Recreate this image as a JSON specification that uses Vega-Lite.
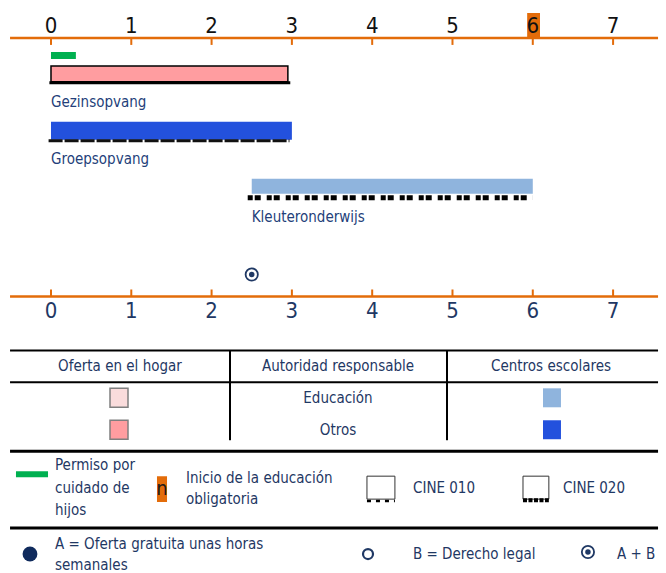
{
  "$schema": "https://vega.github.io/schema/vega-lite/v6.json",
  "width": 666,
  "height": 573,
  "autosize": {"type": "fit", "contains": "padding"},
  "padding": 0,
  "background": "white",
  "config": {"view": {"stroke": null}, "text": {"font": "DejaVu Sans Condensed, sans-serif"}},
  "datasets": {
    "axisLines": [{"x": -0.51, "x2": 7.56, "y": 38}, {"x": -0.51, "x2": 7.56, "y": 297}],
    "ticks": [
      {"x": 0, "y": 38, "y2": 45}, {"x": 1, "y": 38, "y2": 45}, {"x": 2, "y": 38, "y2": 45}, {"x": 3, "y": 38, "y2": 45},
      {"x": 4, "y": 38, "y2": 45}, {"x": 5, "y": 38, "y2": 45}, {"x": 6, "y": 38, "y2": 45}, {"x": 7, "y": 38, "y2": 45},
      {"x": 0, "y": 290, "y2": 297}, {"x": 1, "y": 290, "y2": 297}, {"x": 2, "y": 290, "y2": 297}, {"x": 3, "y": 290, "y2": 297},
      {"x": 4, "y": 290, "y2": 297}, {"x": 5, "y": 290, "y2": 297}, {"x": 6, "y": 290, "y2": 297}, {"x": 7, "y": 290, "y2": 297}
    ],
    "highlight": [{"x": 5.93, "x2": 6.09, "y": 13, "y2": 38}, {"x": 1.32, "x2": 1.445, "y": 477, "y2": 503}],
    "topLabels": [
      {"x": 0, "y": 26, "label": "0"}, {"x": 1, "y": 26, "label": "1"}, {"x": 2, "y": 26, "label": "2"}, {"x": 3, "y": 26, "label": "3"},
      {"x": 4, "y": 26, "label": "4"}, {"x": 5, "y": 26, "label": "5"}, {"x": 6, "y": 26, "label": "6"}, {"x": 7, "y": 26, "label": "7"}
    ],
    "bottomLabels": [
      {"x": 0, "y": 312, "label": "0"}, {"x": 1, "y": 312, "label": "1"}, {"x": 2, "y": 312, "label": "2"}, {"x": 3, "y": 312, "label": "3"},
      {"x": 4, "y": 312, "label": "4"}, {"x": 5, "y": 312, "label": "5"}, {"x": 6, "y": 312, "label": "6"}, {"x": 7, "y": 312, "label": "7"}
    ],
    "leave": [{"x": 0, "x2": 0.31, "y": 52, "y2": 59}, {"x": -0.436, "x2": -0.037, "y": 472, "y2": 478}],
    "homeOther": [{"x": 0, "x2": 2.95, "y": 66, "y2": 82}],
    "swatchHomeEdu": [{"x": 0.735, "x2": 0.959, "y": 389, "y2": 408}],
    "swatchHomeOther": [{"x": 0.735, "x2": 0.959, "y": 421, "y2": 440}],
    "centreOther": [{"x": 0, "x2": 3.0, "y": 122, "y2": 140}, {"x": 6.127, "x2": 6.351, "y": 421, "y2": 440}],
    "centreEdu": [{"x": 2.5, "x2": 6.0, "y": 179, "y2": 194}, {"x": 6.127, "x2": 6.351, "y": 389, "y2": 408}],
    "solidUnder": [{"x": -0.02, "x2": 2.98, "y": 83}],
    "isced010": [{"x": -0.03, "x2": 2.97, "y": 141}],
    "isced020": [{"x": 2.45, "x2": 6.0, "y": 198}],
    "iconBoxes": [{"x": 3.935, "x2": 4.283, "y": 477, "y2": 500}, {"x": 5.878, "x2": 6.2, "y": 477, "y2": 500}],
    "icon010": [{"x": 3.935, "x2": 4.283, "y": 502}],
    "icon020": [{"x": 5.878, "x2": 6.2, "y": 501}],
    "barLabels": [
      {"x": 0, "y": 102, "label": "Gezinsopvang"},
      {"x": 0, "y": 159, "label": "Groepsopvang"},
      {"x": 2.5, "y": 217, "label": "Kleuteronderwijs"}
    ],
    "ringMarkers": [{"x": 2.5, "y": 275}, {"x": 6.687, "y": 553}],
    "openCircle": [{"x": 3.948, "y": 555}],
    "fullCircle": [{"x": -0.2615, "y": 555}],
    "tableLines": [{"x": -0.51, "x2": 7.56, "y": 351}, {"x": -0.51, "x2": 7.56, "y": 383}],
    "thickLines": [{"x": -0.51, "x2": 7.56, "y": 452}, {"x": -0.51, "x2": 7.56, "y": 529}],
    "vLines": [{"x": 2.229, "y": 351, "y2": 441}, {"x": 4.932, "y": 351, "y2": 441}],
    "centreText": [
      {"x": 0.859, "y": 367, "label": "Oferta en el hogar"},
      {"x": 3.574, "y": 367, "label": "Autoridad responsable"},
      {"x": 6.227, "y": 367, "label": "Centros escolares"},
      {"x": 3.574, "y": 399, "label": "Educación"},
      {"x": 3.574, "y": 431, "label": "Otros"}
    ],
    "legendText": [
      {"x": 0.05, "y": 466, "label": "Permiso por"},
      {"x": 0.05, "y": 489, "label": "cuidado de"},
      {"x": 0.05, "y": 511, "label": "hijos"},
      {"x": 1.681, "y": 479, "label": "Inicio de la educación"},
      {"x": 1.681, "y": 500, "label": "obligatoria"},
      {"x": 4.508, "y": 489, "label": "CINE 010"},
      {"x": 6.376, "y": 489, "label": "CINE 020"},
      {"x": 0.05, "y": 545, "label": "A = Oferta gratuita unas horas"},
      {"x": 0.05, "y": 566, "label": "semanales"},
      {"x": 4.508, "y": 555, "label": "B = Derecho legal"},
      {"x": 7.049, "y": 555, "label": "A + B"}
    ],
    "nText": [{"x": 1.382, "y": 490, "label": "n"}]
  },
  "encoding": {
    "x": {"field": "x", "type": "quantitative", "scale": {"domain": [-0.635, 7.659], "nice": false, "zero": false}, "axis": null},
    "y": {"field": "y", "type": "quantitative", "scale": {"domain": [0, 573], "reverse": true, "nice": false, "zero": false}, "axis": null}
  },
  "layer": [
    {"data": {"name": "highlight"}, "mark": {"type": "rect", "color": "#e36c0a"}, "encoding": {"x2": {"field": "x2"}, "y2": {"field": "y2"}}},
    {"data": {"name": "axisLines"}, "mark": {"type": "rule", "color": "#e36c0a", "strokeWidth": 2.5}, "encoding": {"x2": {"field": "x2"}}},
    {"data": {"name": "ticks"}, "mark": {"type": "rule", "color": "#e36c0a", "strokeWidth": 2}, "encoding": {"y2": {"field": "y2"}}},
    {"data": {"name": "topLabels"}, "mark": {"type": "text", "color": "#111111", "fontSize": 22, "baseline": "middle", "align": "center"}, "encoding": {"text": {"field": "label"}}},
    {"data": {"name": "bottomLabels"}, "mark": {"type": "text", "color": "#1f3864", "fontSize": 22, "baseline": "middle", "align": "center"}, "encoding": {"text": {"field": "label"}}},
    {"data": {"name": "leave"}, "mark": {"type": "rect", "color": "#00b050"}, "encoding": {"x2": {"field": "x2"}, "y2": {"field": "y2"}}},
    {"data": {"name": "homeOther"}, "mark": {"type": "rect", "fill": "#ff9da0", "stroke": "#000000", "strokeWidth": 1.5}, "encoding": {"x2": {"field": "x2"}, "y2": {"field": "y2"}}},
    {"data": {"name": "swatchHomeEdu"}, "mark": {"type": "rect", "fill": "#fadcdc", "stroke": "#7f7f7f", "strokeWidth": 1.5}, "encoding": {"x2": {"field": "x2"}, "y2": {"field": "y2"}}},
    {"data": {"name": "swatchHomeOther"}, "mark": {"type": "rect", "fill": "#ff9da0", "stroke": "#7f7f7f", "strokeWidth": 1.5}, "encoding": {"x2": {"field": "x2"}, "y2": {"field": "y2"}}},
    {"data": {"name": "centreOther"}, "mark": {"type": "rect", "color": "#2351dd"}, "encoding": {"x2": {"field": "x2"}, "y2": {"field": "y2"}}},
    {"data": {"name": "centreEdu"}, "mark": {"type": "rect", "color": "#8fb4dd"}, "encoding": {"x2": {"field": "x2"}, "y2": {"field": "y2"}}},
    {"data": {"name": "solidUnder"}, "mark": {"type": "rule", "color": "#000000", "strokeWidth": 3}, "encoding": {"x2": {"field": "x2"}}},
    {"data": {"name": "isced010"}, "mark": {"type": "rule", "color": "#111111", "strokeWidth": 3, "strokeDash": [14, 2]}, "encoding": {"x2": {"field": "x2"}}},
    {"data": {"name": "isced020"}, "mark": {"type": "rule", "color": "#000000", "strokeWidth": 5, "strokeDash": [5, 2, 6, 6]}, "encoding": {"x2": {"field": "x2"}}},
    {"data": {"name": "iconBoxes"}, "mark": {"type": "rect", "fill": null, "fillOpacity": 0, "stroke": "#333333", "strokeWidth": 1}, "encoding": {"x2": {"field": "x2"}, "y2": {"field": "y2"}}},
    {"data": {"name": "icon010"}, "mark": {"type": "rule", "color": "#000000", "strokeWidth": 2.5, "strokeDash": [4, 5]}, "encoding": {"x2": {"field": "x2"}}},
    {"data": {"name": "icon020"}, "mark": {"type": "rule", "color": "#000000", "strokeWidth": 4, "strokeDash": [4, 1.5]}, "encoding": {"x2": {"field": "x2"}}},
    {"data": {"name": "barLabels"}, "mark": {"type": "text", "color": "#243f7a", "fontSize": 15, "baseline": "middle", "align": "left"}, "encoding": {"text": {"field": "label"}}},
    {"data": {"name": "ringMarkers"}, "mark": {"type": "point", "shape": "circle", "filled": false, "color": "#1f3864", "strokeWidth": 1.8, "size": 150, "opacity": 1}},
    {"data": {"name": "ringMarkers"}, "mark": {"type": "point", "shape": "circle", "filled": true, "color": "#1f3864", "size": 30, "opacity": 1}},
    {"data": {"name": "openCircle"}, "mark": {"type": "point", "shape": "circle", "filled": false, "color": "#1f3864", "strokeWidth": 2.2, "size": 100, "opacity": 1}},
    {"data": {"name": "fullCircle"}, "mark": {"type": "point", "shape": "circle", "filled": true, "color": "#0f2a5c", "size": 220, "opacity": 1}},
    {"data": {"name": "tableLines"}, "mark": {"type": "rule", "color": "#000000", "strokeWidth": 2}, "encoding": {"x2": {"field": "x2"}}},
    {"data": {"name": "thickLines"}, "mark": {"type": "rule", "color": "#000000", "strokeWidth": 3}, "encoding": {"x2": {"field": "x2"}}},
    {"data": {"name": "vLines"}, "mark": {"type": "rule", "color": "#000000", "strokeWidth": 2}, "encoding": {"y2": {"field": "y2"}}},
    {"data": {"name": "centreText"}, "mark": {"type": "text", "color": "#1f3864", "fontSize": 15, "baseline": "middle", "align": "center"}, "encoding": {"text": {"field": "label"}}},
    {"data": {"name": "legendText"}, "mark": {"type": "text", "color": "#1f3864", "fontSize": 15, "baseline": "middle", "align": "left"}, "encoding": {"text": {"field": "label"}}},
    {"data": {"name": "nText"}, "mark": {"type": "text", "color": "#1a1a1a", "fontSize": 20, "baseline": "middle", "align": "center"}, "encoding": {"text": {"field": "label"}}}
  ]
}
